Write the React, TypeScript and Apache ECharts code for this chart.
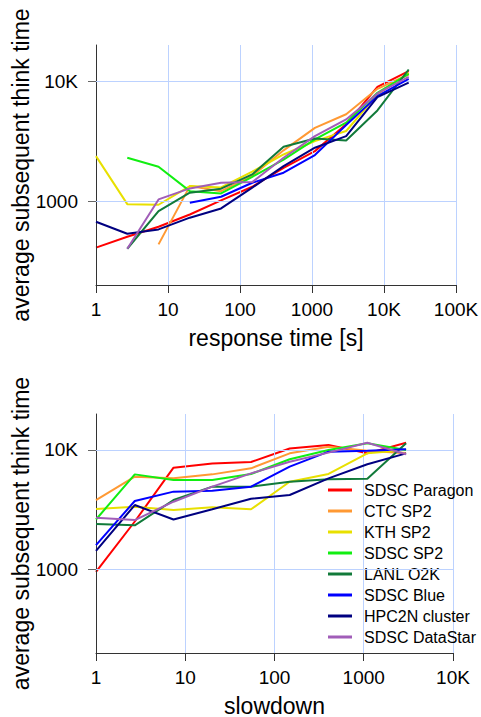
import React, { useEffect, useRef } from 'react';
import * as echarts from 'echarts';

// ---- data ----
const seriesNames = ['SDSC Paragon', 'CTC SP2', 'KTH SP2', 'SDSC SP2', 'LANL O2K', 'SDSC Blue', 'HPC2N cluster', 'SDSC DataStar'];

// top chart: x = response time [s]
const responseTimes = [1, 2.72, 7.39, 20.1, 54.6, 148, 403, 1097, 2981, 8103, 22026];
const rtParagon = [410, 505, 612, 774, 1013, 1318, 1896, 2610, 4370, 8970, 12100];
const rtCTC = [null, null, 436, 1334, 1211, 1620, 2650, 4080, 5300, 8630, 11360];
const rtKTH = [2371, 944, 933, 1334, 1300, 1758, 2448, 3160, 3840, 7740, 11700];
const rtSDSC = [null, 2300, 1935, 1211, 1159, 1596, 2220, 3270, 4500, 8000, 11500];
const rtLANL = [null, 401, 826, 1175, 1269, 1668, 2840, 3330, 3200, 5700, 12500];
const rtBlue = [null, null, null, 970, 1088, 1423, 1725, 2420, 4300, 7500, 10450];
const rtHPC2N = [673, 535, 581, 728, 869, 1295, 1958, 2786, 3480, 7360, 9700];
const rtDataStar = [null, 401, 1033, 1276, 1423, 1440, 2297, 3480, 4790, 7900, 10860];

// bottom chart: x = slowdown
const slowdowns = [1, 2.72, 7.39, 20.1, 54.6, 148, 403, 1097, 2981];
const sdParagon = [956, 2520, 7110, 7720, 7930, 10300, 11000, 9370, 11500];
const sdCTC = [3810, 5980, 5800, 6250, 7020, 9370, 10660, 9860, 9370];
const sdKTH = [3210, 3350, 3140, 3310, 3190, 5420, 6300, 9380, 10000];
const sdSDSC = [2620, 6250, 5610, 5610, 6300, 8360, 10000, 11370, 10000];
const sdLANL = [2400, 2340, 3810, 4930, 4930, 5430, 5680, 5750, 11370];
const sdBlue = [1600, 3740, 4480, 4560, 4930, 7250, 9680, 9860, 10130];
const sdHPC2N = [1433, 3460, 2620, 3190, 3910, 4200, 5790, 7590, 9370];
const sdDataStar = [2710, 2590, 3690, 4930, 6370, 7980, 9500, 11500, 9200];

const topXTicks = [1, 10, 100, 1000, 10000, 100000];
const bottomXTicks = [1, 10, 100, 1000, 10000];
const yTicks = [1000, 10000];

const topSeries = [rtParagon, rtCTC, rtKTH, rtSDSC, rtLANL, rtBlue, rtHPC2N, rtDataStar];
const bottomSeries = [sdParagon, sdCTC, sdKTH, sdSDSC, sdLANL, sdBlue, sdHPC2N, sdDataStar];

const colors = ['#ff0000', '#ff9933', '#e8e000', '#11ee11', '#117a3a', '#0000ff', '#000080', '#a15db8'];
const FONT = 'Liberation Sans, Arial, sans-serif';
const GRID_COLOR = '#bcd2ff';

function fmt(v: number): string {
  if (v >= 10000) return v / 1000 + 'K';
  return String(v);
}

function pairs(xs: number[], ys: (number | null)[]) {
  const out: [number, number][] = [];
  ys.forEach((y, i) => {
    if (y != null) out.push([xs[i], y]);
  });
  return out;
}

function xAxis(grid: number, max: number, ticks: number[], name: string) {
  return {
    type: 'log',
    gridIndex: grid,
    logBase: 10,
    min: 1,
    max,
    name,
    nameLocation: 'middle',
    nameGap: 41,
    nameMoveOverlap: false,
    nameTextStyle: { fontSize: 23, color: '#000', fontFamily: FONT },
    axisLine: { show: true, onZero: false, lineStyle: { color: '#333', width: 1 } },
    axisTick: { show: true, length: 8, customValues: ticks, lineStyle: { color: '#333', width: 1 } },
    axisLabel: { customValues: ticks, formatter: (v: number) => fmt(Math.round(v)), fontSize: 19, color: '#000', fontFamily: FONT, margin: 15 },
    splitLine: { show: true, lineStyle: { color: GRID_COLOR, width: 1 } },
    z: 3,
  };
}

function yAxis(grid: number) {
  return {
    type: 'log',
    gridIndex: grid,
    logBase: 10,
    min: 200,
    max: 20000,
    name: 'average subsequent think time',
    nameLocation: 'middle',
    nameGap: 64,
    nameMoveOverlap: false,
    nameTextStyle: { fontSize: 23, color: '#000', fontFamily: FONT },
    axisLine: { show: true, onZero: false, lineStyle: { color: '#333', width: 1 } },
    axisTick: { show: true, length: 8, customValues: yTicks, lineStyle: { color: '#666', width: 1 } },
    axisLabel: {
      customValues: yTicks,
      formatter: (v: number) => (yTicks.indexOf(Math.round(v)) >= 0 ? fmt(Math.round(v)) : ''),
      fontSize: 19,
      color: '#000',
      fontFamily: FONT,
      margin: 18,
    },
    splitLine: { show: false },
    z: 3,
  };
}

function gridLines(grid: number) {
  return {
    type: 'line',
    name: '_grid' + grid,
    xAxisIndex: grid,
    yAxisIndex: grid,
    data: [],
    silent: true,
    z: 1,
    markLine: {
      silent: true,
      symbol: 'none',
      label: { show: false },
      lineStyle: { color: GRID_COLOR, width: 1, type: 'solid' },
      emphasis: { disabled: true },
      data: yTicks.map((v) => ({ yAxis: v })),
    },
  };
}

export default function App() {
  const ref = useRef<HTMLDivElement>(null);
  useEffect(() => {
    if (!ref.current) return;
    const chart = echarts.init(ref.current, null, { renderer: 'svg' });
    const series: any[] = [gridLines(0), gridLines(1)];
    seriesNames.forEach((name, i) => {
      series.push({
        type: 'line',
        name,
        xAxisIndex: 0,
        yAxisIndex: 0,
        data: pairs(responseTimes, topSeries[i]),
        symbol: 'none',
        lineStyle: { width: 2, color: colors[i] },
        itemStyle: { color: colors[i] },
        z: 2 + i,
      });
    });
    seriesNames.forEach((name, i) => {
      series.push({
        type: 'line',
        name,
        xAxisIndex: 1,
        yAxisIndex: 1,
        data: pairs(slowdowns, bottomSeries[i]),
        symbol: 'none',
        lineStyle: { width: 2, color: colors[i] },
        itemStyle: { color: colors[i] },
        z: 2 + i,
      });
    });
    chart.setOption({
      animation: false,
      backgroundColor: '#fff',
      grid: [
        { left: 96, top: 45, width: 360, height: 240, containLabel: false, outerBoundsMode: 'none' },
        { left: 96, top: 414, width: 357, height: 239, containLabel: false, outerBoundsMode: 'none' },
      ],
      xAxis: [
        xAxis(0, 100000, topXTicks, 'response time [s]'),
        xAxis(1, 10000, bottomXTicks, 'slowdown'),
      ],
      yAxis: [yAxis(0), yAxis(1)],
      legend: {
        data: seriesNames,
        orient: 'vertical',
        left: 328,
        top: 482,
        padding: 0,
        icon: 'rect',
        itemWidth: 24,
        itemHeight: 3,
        itemGap: 5,
        selectedMode: false,
        textStyle: { fontSize: 16, color: '#000', fontFamily: FONT, lineHeight: 16, padding: [0, 0, 0, 7] },
      },
      series,
    });
    return () => chart.dispose();
  }, []);
  return <div ref={ref} style={{ position: 'fixed', left: 0, top: 0, width: 481, height: 717 }} />;
}
